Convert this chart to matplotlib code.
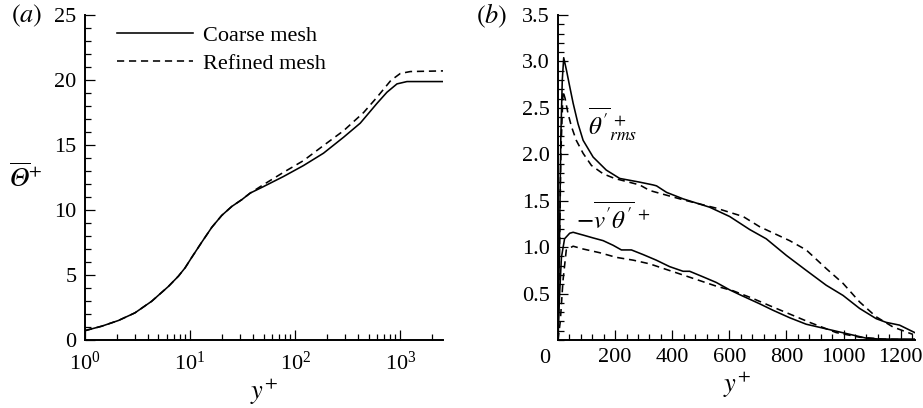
import numpy as np
import matplotlib.pyplot as plt
from matplotlib.ticker import MultipleLocator, FixedLocator, LogLocator, NullFormatter

plt.rcParams['font.family'] = 'serif'
plt.rcParams['font.serif'] = ['Liberation Serif', 'DejaVu Serif']
plt.rcParams['mathtext.fontset'] = 'stix'

# panel (a): mean temperature profile
ya_coarse = [1.0, 1.44, 2.08, 2.99, 4.31, 6.22, 7.74, 8.96, 10.4, 12.9, 16.1, 20.0, 24.9,
             31.1, 37.3, 49.9, 77.5, 120, 186, 289, 416, 600, 747, 930, 1158, 2550]
theta_coarse = [0.72, 1.06, 1.50, 2.09, 2.98, 4.12, 4.91, 5.55, 6.37, 7.52, 8.67, 9.58, 10.27,
                10.8, 11.3, 11.8, 12.58, 13.42, 14.37, 15.6, 16.68, 18.2, 19.06, 19.7, 19.88, 19.88]
ya_refined = [1.0, 1.44, 2.08, 2.99, 4.31, 6.22, 7.74, 8.96, 10.4, 12.9, 16.1, 20.0, 24.9,
              31.1, 37.3, 49.9, 77.5, 120, 186, 289, 448, 600, 812, 1000, 1245, 2550]
theta_refined = [0.72, 1.06, 1.50, 2.09, 2.98, 4.12, 4.91, 5.55, 6.37, 7.52, 8.67, 9.58, 10.27,
                 10.8, 11.3, 11.95, 12.9, 13.8, 14.96, 16.1, 17.5, 18.67, 19.96, 20.5, 20.65, 20.7]

# panel (b): rms temperature and wall-normal heat flux
yb_rms_c = [0, 5, 10, 15, 20, 30, 41, 53, 70, 88, 123, 169, 216, 286, 333, 345, 380, 438, 531,
            601, 636, 671, 729, 800, 869, 939, 998, 1056, 1114, 1149, 1196, 1249]
rms_c = [0, 1.0, 2.2, 2.8, 3.04, 2.9, 2.73, 2.55, 2.33, 2.15, 1.97, 1.83, 1.74, 1.70, 1.67, 1.66,
         1.59, 1.52, 1.43, 1.33, 1.26, 1.19, 1.09, 0.91, 0.75, 0.59, 0.48, 0.34, 0.23, 0.19, 0.16, 0.08]
yb_rms_r = [0, 5, 10, 17.5, 25, 35, 47, 64, 88, 117, 158, 198, 286, 321, 438, 554, 648, 706,
            811, 869, 939, 998, 1056, 1114, 1173, 1243]
rms_r = [0, 0.9, 2.0, 2.68, 2.6, 2.44, 2.30, 2.15, 2.01, 1.88, 1.79, 1.74, 1.67, 1.61, 1.51, 1.42,
         1.33, 1.22, 1.07, 0.97, 0.77, 0.61, 0.41, 0.25, 0.14, 0.06]
yb_flux_c = [0, 5, 12, 23, 41, 53, 76, 88, 122, 158, 193, 222, 257, 298, 344, 391, 438, 461, 508,
             554, 601, 642, 706, 753, 811, 869, 939, 1009, 1079, 1126, 1249]
flux_c = [0, 0.45, 0.89, 1.09, 1.15, 1.16, 1.14, 1.13, 1.10, 1.07, 1.02, 0.97, 0.97, 0.92, 0.86,
          0.79, 0.74, 0.74, 0.68, 0.62, 0.54, 0.48, 0.39, 0.32, 0.24, 0.17, 0.12, 0.07, 0.02, 0.01, 0.01]
yb_flux_r = [0, 8, 17.5, 29, 53, 88, 146, 204, 263, 321, 379, 438, 496, 554, 613, 680, 741, 811,
             881, 974, 1056, 1138, 1249]
flux_r = [0, 0.2, 0.64, 0.97, 1.01, 0.98, 0.94, 0.89, 0.86, 0.82, 0.76, 0.70, 0.64, 0.58, 0.53,
          0.45, 0.37, 0.28, 0.19, 0.08, 0.03, 0.01, 0.0]

FS = 16
MFS = 19
LW = 1.15
DASH = (4.5, 3)

fig = plt.figure(figsize=(9.23, 4.08), dpi=100)
W, H = 923, 408
ax1 = fig.add_axes([85 / W, 1 - 340 / H, 358 / W, 325 / H])
ax2 = fig.add_axes([558 / W, 1 - 340 / H, 357 / W, 325 / H])

for ax in (ax1, ax2):
    for s in ('top', 'right'):
        ax.spines[s].set_visible(False)
    for s in ('left', 'bottom'):
        ax.spines[s].set_linewidth(1.4)
    ax.tick_params(which='both', direction='in', top=False, right=False,
                   labelsize=FS, width=0.9)
    ax.tick_params(which='major', length=7, pad=6)
    ax.tick_params(which='minor', length=4)

# (a)
ax1.plot(ya_coarse, theta_coarse, 'k-', lw=LW, label='Coarse mesh')
ax1.plot(ya_refined, theta_refined, 'k--', lw=LW, dashes=DASH, label='Refined mesh')
ax1.set_xscale('log')
ax1.set_xlim(1, 2550)
ax1.set_ylim(0, 25)
ax1.xaxis.set_major_locator(LogLocator(base=10, numticks=10))
ax1.xaxis.set_minor_locator(LogLocator(base=10, subs=np.arange(2, 10), numticks=20))
ax1.xaxis.set_minor_formatter(NullFormatter())
ax1.tick_params(axis='x', which='major', pad=8)
ax1.yaxis.set_major_locator(MultipleLocator(5))
ax1.yaxis.set_minor_locator(MultipleLocator(1))
ax1.set_xlabel(r'$y^{+}$', fontsize=MFS, labelpad=2)
ax1.set_ylabel('$\\overline{\U0001D6E9}^{+}$', fontsize=MFS, rotation=0,
               ha='center', va='center')
ax1.yaxis.set_label_coords(-0.165, 0.5)
ax1.legend(loc='upper left', bbox_to_anchor=(117 / W, 1 - 25 / H),
           bbox_transform=fig.transFigure, frameon=False, fontsize=FS,
           handlelength=3.4, handletextpad=0.45, labelspacing=0.35,
           borderpad=0, borderaxespad=0)
fig.text(27 / W, 1 - 16 / H, r'$(a)$', fontsize=MFS, ha='center', va='center')

# (b)
ax2.plot(yb_rms_c, rms_c, 'k-', lw=LW)
ax2.plot(yb_rms_r, rms_r, 'k--', lw=LW, dashes=DASH)
ax2.plot(yb_flux_c, flux_c, 'k-', lw=LW)
ax2.plot(yb_flux_r, flux_r, 'k--', lw=LW, dashes=DASH)
ax2.set_xlim(0, 1250)
ax2.set_ylim(0, 3.5)
ax2.xaxis.set_major_locator(MultipleLocator(200))
ax2.xaxis.set_minor_locator(MultipleLocator(40))
ax2.xaxis.set_major_formatter(lambda v, p: '' if v == 0 else f'{v:.0f}')
ax2.yaxis.set_major_locator(FixedLocator([0.5, 1.0, 1.5, 2.0, 2.5, 3.0, 3.5]))
ax2.yaxis.set_minor_locator(MultipleLocator(0.1))
ax2.yaxis.set_major_formatter(lambda v, p: f'{v:.1f}')
ax2.set_xlabel(r'$y^{+}$', fontsize=MFS, labelpad=2)
# the origin label sits left of the axis corner, as in the original
fig.text(545 / W, 1 - 349 / H, '0', fontsize=FS, ha='center', va='top')
ax2.text(104, 2.32, r"$\overline{\theta'}^{\,+}_{rms}$", fontsize=18,
         ha='left', va='center')
ax2.text(64, 1.32, r"$-\overline{v'\theta'}^{\,+}$", fontsize=18,
         ha='left', va='center')
fig.text(492 / W, 1 - 16 / H, r'$(b)$', fontsize=MFS, ha='center', va='center')

fig.savefig('out.png', dpi=100)
